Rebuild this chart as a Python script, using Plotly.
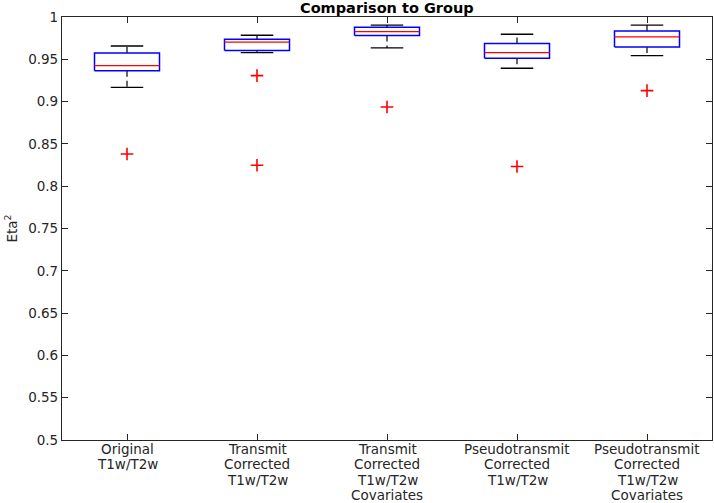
import plotly.graph_objects as go

# ---- data ----
categories = [
    ["Original", "T1w/T2w"],
    ["Transmit", "Corrected", "T1w/T2w"],
    ["Transmit", "Corrected", "T1w/T2w", "Covariates"],
    ["Pseudotransmit", "Corrected", "T1w/T2w"],
    ["Pseudotransmit", "Corrected", "T1w/T2w", "Covariates"],
]
lower_whisker = [0.9169, 0.9580, 0.9634, 0.9394, 0.9544]
q1 = [0.9366, 0.9603, 0.9780, 0.9512, 0.9645]
median = [0.9425, 0.9704, 0.9827, 0.9580, 0.9764]
q3 = [0.9574, 0.9736, 0.9878, 0.9686, 0.9835]
upper_whisker = [0.9657, 0.9784, 0.9905, 0.9796, 0.9905]
outliers = [[0.838], [0.9307, 0.8247], [0.8936], [0.8232], [0.913]]

ytick_vals = [0.5, 0.55, 0.6, 0.65, 0.7, 0.75, 0.8, 0.85, 0.9, 0.95, 1.0]
ytick_text = ["0.5", "0.55", "0.6", "0.65", "0.7", "0.75", "0.8", "0.85", "0.9", "0.95", "1"]

BOX_HALF = 0.25
CAP_HALF = 0.125
FONT = "DejaVu Sans"
AXCOL = "#262626"
W, H = 714, 503
ML, MR, MT, MB = 62, 2, 17, 63
PH = H - MT - MB

positions = list(range(1, len(categories) + 1))

wx, wy, cx, cy, bx, by, mx, my, ox, oy = ([] for _ in range(10))
for i, p in enumerate(positions):
    wx += [p, p, None, p, p, None]
    wy += [q3[i], upper_whisker[i], None, q1[i], lower_whisker[i], None]
    cx += [p - CAP_HALF, p + CAP_HALF, None, p - CAP_HALF, p + CAP_HALF, None]
    cy += [upper_whisker[i], upper_whisker[i], None, lower_whisker[i], lower_whisker[i], None]
    bx += [p - BOX_HALF, p + BOX_HALF, p + BOX_HALF, p - BOX_HALF, p - BOX_HALF, None]
    by += [q1[i], q1[i], q3[i], q3[i], q1[i], None]
    mx += [p - BOX_HALF, p + BOX_HALF, None]
    my += [median[i], median[i], None]
    for v in outliers[i]:
        ox.append(p)
        oy.append(v)

fig = go.Figure()
fig.add_trace(go.Scatter(x=wx, y=wy, mode="lines",
                         line=dict(color="black", width=1.2, dash="6px,4px"),
                         hoverinfo="skip", showlegend=False))
fig.add_trace(go.Scatter(x=cx, y=cy, mode="lines",
                         line=dict(color="black", width=1.3),
                         hoverinfo="skip", showlegend=False))
fig.add_trace(go.Scatter(x=bx, y=by, mode="lines",
                         line=dict(color="#0000FF", width=1.5),
                         hoverinfo="skip", showlegend=False))
fig.add_trace(go.Scatter(x=mx, y=my, mode="lines",
                         line=dict(color="#FF0000", width=1.3),
                         hoverinfo="skip", showlegend=False))
fig.add_trace(go.Scatter(x=ox, y=oy, mode="markers",
                         marker=dict(symbol="cross-thin", size=9,
                                     line=dict(color="#FF0000", width=1.6)),
                         showlegend=False))

annotations = []
# x category labels, one annotation per line (tight MATLAB-like line spacing)
LINE0, LINE_STEP = 449.0, 15.5
for p, lines in zip(positions, categories):
    for j, txt in enumerate(lines):
        ypix = LINE0 + j * LINE_STEP
        annotations.append(dict(
            text=txt, xref="x", yref="paper", x=p,
            y=(H - MB - ypix) / PH, xanchor="center", yanchor="middle",
            showarrow=False, font=dict(family=FONT, size=13.5, color=AXCOL)))
# y axis title
annotations.append(dict(text="Eta<sup>2</sup>", xref="paper", yref="paper",
                        x=(11 - ML) / (W - ML - MR), y=0.5, xanchor="center",
                        yanchor="middle", textangle=-90, showarrow=False,
                        font=dict(family=FONT, size=13.5, color=AXCOL)))
# title
annotations.append(dict(text="<b>Comparison to Group</b>", xref="paper", yref="paper",
                        x=0.5, y=1 + (MT - 7.5) / PH, xanchor="center", yanchor="middle",
                        showarrow=False, font=dict(family=FONT, size=14.5, color="black")))

fig.update_layout(
    width=W, height=H,
    margin=dict(l=ML, r=MR, t=MT, b=MB),
    paper_bgcolor="white", plot_bgcolor="white",
    font=dict(family=FONT, size=13, color=AXCOL),
    xaxis=dict(range=[0.5, 5.5], tickvals=positions, showticklabels=False,
               showgrid=False, zeroline=False, showline=True, linecolor=AXCOL,
               linewidth=1.2, mirror="ticks", ticks="inside", ticklen=6,
               tickcolor=AXCOL, tickwidth=1.2, automargin=False),
    yaxis=dict(range=[0.5, 1.0], tickvals=ytick_vals, ticktext=ytick_text,
               showgrid=False, zeroline=False, showline=True, linecolor=AXCOL,
               linewidth=1.2, mirror="ticks", ticks="inside", ticklen=6,
               tickcolor=AXCOL, tickwidth=1.2, automargin=False,
               tickfont=dict(size=13.5, color=AXCOL)),
    annotations=annotations,
)

fig.write_html("out.html", config={"displayModeBar": False},
               post_script="document.body.style.margin='0';document.body.style.overflow='hidden';")
